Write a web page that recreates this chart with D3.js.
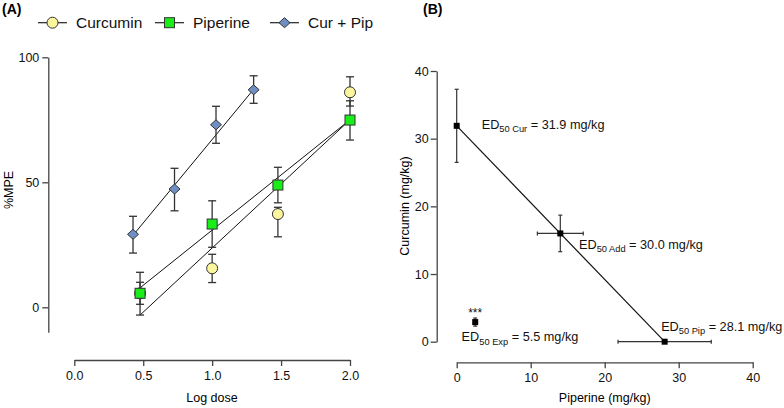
<!DOCTYPE html>
<html>
<head>
<meta charset="utf-8">
<script src="https://cdn.jsdelivr.net/npm/d3@7"></script>
<style>
  body { margin: 0; background: #fff; }
  svg { font-family: "Liberation Sans", Arial, sans-serif; }
</style>
</head>
<body>
<svg id="chart" width="784" height="408"></svg>
<script>
// panel A: dose-response (log dose vs %MPE)
const logDose = [0.477, 1.0, 1.477, 2.0];
const curMean = [5.6, 15.6, 37.3, 86.0];
const curLo = [1.2, 9.9, 28.2, 80.5];
const curHi = [10.0, 21.2, 40.0, 92.2];
const pipMean = [5.6, 33.3, 48.9, 74.9];
const pipLo = [-3.1, 24.0, 41.8, 66.9];
const pipHi = [14.0, 42.6, 56.0, 82.6];
const combDose = [0.426, 0.727, 1.028, 1.301];
const combMean = [29.2, 47.3, 73.0, 87.0];
const combLo = [21.7, 38.6, 65.6, 81.6];
const combHi = [36.4, 55.6, 80.4, 92.6];
// regression lines (start/end)
const curFitX = [0.477, 2.0], curFitY = [-3.1, 75.0];
const pipFitX = [0.477, 2.0], pipFitY = [7.8, 75.0];
const combFitX = [0.426, 1.301], combFitY = [28.8, 87.2];
const xTicksA = [0, 0.5, 1.0, 1.5, 2.0];
const yTicksA = [0, 50, 100];

// panel B: isobologram
const edNames = ["Cur", "Add", "Pip", "Exp"];
const edValues = ["31.9", "30.0", "28.1", "5.5"];
const edPip = [0, 14.0, 28.1, 2.5];
const edCur = [31.9, 16.0, 0, 2.9];
const edPipErr = [0, 3.1, 6.3, 0];
const edCurErr = [5.4, 2.7, 0, 0.6];
const xTicksB = [0, 10, 20, 30, 40];
const yTicksB = [0, 10, 20, 30, 40];

const svg = d3.select("#chart");
const axisColor = "#444";
const errColor = "#333";

// ---------- panel A ----------
const xA = d3.scaleLinear().domain([0, 2]).range([74.3, 350]);
const yA = d3.scaleLinear().domain([-10, 100]).range([332.3, 57.3]);

function styleAxis(g) {
    g.selectAll("path, line").attr("stroke", axisColor).attr("stroke-width", 1.3);
    g.selectAll("text").attr("fill", "#111").attr("font-size", 12.5);
}

svg.append("g")
    .attr("transform", "translate(48.3,0)")
    .call(d3.axisLeft(yA).tickValues(yTicksA).tickSize(6).tickSizeOuter(0).tickPadding(3))
    .call(styleAxis);

svg.append("g")
    .attr("transform", "translate(0,360)")
    .call(d3.axisBottom(xA).tickValues(xTicksA).tickFormat(d3.format(".1f")).tickSize(6).tickSizeOuter(0).tickPadding(5))
    .call(styleAxis);

svg.append("text").attr("x", 212).attr("y", 402).attr("text-anchor", "middle")
    .attr("font-size", 12.5).text("Log dose");
svg.append("text").attr("transform", "translate(12.5,190) rotate(-90)").attr("text-anchor", "middle")
    .attr("font-size", 12.5).text("%MPE");
svg.append("text").attr("x", 2).attr("y", 14).attr("font-size", 14).attr("font-weight", "bold").text("(A)");

const gA = svg.append("g");

function fitLine(xs, ys) {
    gA.append("line")
        .attr("x1", xA(xs[0])).attr("y1", yA(ys[0]))
        .attr("x2", xA(xs[1])).attr("y2", yA(ys[1]))
        .attr("stroke", "#111").attr("stroke-width", 1);
}
fitLine(combFitX, combFitY);
fitLine(pipFitX, pipFitY);
fitLine(curFitX, curFitY);

function errBars(xs, lo, hi) {
    const g = gA.append("g").attr("stroke", errColor).attr("stroke-width", 1.3);
    xs.forEach((x, i) => {
        const px = xA(x);
        g.append("line").attr("x1", px).attr("x2", px).attr("y1", yA(lo[i])).attr("y2", yA(hi[i]));
        [lo[i], hi[i]].forEach(v => {
            g.append("line").attr("x1", px - 4).attr("x2", px + 4).attr("y1", yA(v)).attr("y2", yA(v));
        });
    });
}
errBars(logDose, curLo, curHi);
errBars(logDose, pipLo, pipHi);
errBars(combDose, combLo, combHi);

const markers = {
    circle: g => g.append("circle").attr("r", 5.5).attr("fill", "#fbf59e"),
    square: g => g.append("rect").attr("x", -5).attr("y", -5).attr("width", 10).attr("height", 10).attr("fill", "#19ee19"),
    diamond: g => g.append("path").attr("d", "M0,-5 L5.5,0 L0,5 L-5.5,0 Z").attr("fill", "#6f8fc2")
};

function drawMarkers(xs, ys, kind) {
    xs.forEach((x, i) => {
        const g = gA.append("g").attr("transform", `translate(${xA(x)},${yA(ys[i])})`);
        markers[kind](g).attr("stroke", "#333").attr("stroke-width", 1);
    });
}
drawMarkers(logDose, curMean, "circle");
drawMarkers(logDose, pipMean, "square");
drawMarkers(combDose, combMean, "diamond");

// legend
const legendItems = [
    { kind: "circle", label: "Curcumin", x: 38 },
    { kind: "square", label: "Piperine", x: 155 },
    { kind: "diamond", label: "Cur + Pip", x: 270 }
];
legendItems.forEach(it => {
    const g = svg.append("g").attr("transform", `translate(${it.x},22.7)`);
    g.append("line").attr("x1", 0).attr("x2", 29).attr("stroke", "#222").attr("stroke-width", 1.2);
    const m = g.append("g").attr("transform", "translate(14.5,0)");
    markers[it.kind](m).attr("stroke", "#333").attr("stroke-width", 1);
    g.append("text").attr("x", 38).attr("y", 5.5).attr("font-size", 15.5).attr("fill", "#111").text(it.label);
});

// ---------- panel B ----------
const xB = d3.scaleLinear().domain([0, 40]).range([456.7, 752.7]);
const yB = d3.scaleLinear().domain([0, 40]).range([341.7, 71]);

svg.append("g")
    .attr("transform", "translate(436.7,0)")
    .call(d3.axisLeft(yB).tickValues(yTicksB).tickSize(6).tickSizeOuter(0).tickPadding(2))
    .call(styleAxis);

svg.append("g")
    .attr("transform", "translate(0,362.3)")
    .call(d3.axisBottom(xB).tickValues(xTicksB).tickSize(6).tickSizeOuter(0).tickPadding(5))
    .call(styleAxis);

svg.append("text").attr("x", 604.7).attr("y", 402).attr("text-anchor", "middle")
    .attr("font-size", 12.5).text("Piperine (mg/kg)");
svg.append("text").attr("transform", "translate(409,206) rotate(-90)").attr("text-anchor", "middle")
    .attr("font-size", 12.5).text("Curcumin (mg/kg)");
svg.append("text").attr("x", 423).attr("y", 14).attr("font-size", 14).attr("font-weight", "bold").text("(B)");

const gB = svg.append("g");

// line of additivity (Cur ED50 -> Pip ED50)
gB.append("line")
    .attr("x1", xB(edPip[0])).attr("y1", yB(edCur[0]))
    .attr("x2", xB(edPip[2])).attr("y2", yB(edCur[2]))
    .attr("stroke", "#111").attr("stroke-width", 1.2);

const eb = gB.append("g").attr("stroke", errColor).attr("stroke-width", 1.2);
edPip.forEach((x, i) => {
    const px = xB(x), py = yB(edCur[i]);
    if (edCurErr[i] > 0) {
        const y1 = yB(edCur[i] - edCurErr[i]), y2 = yB(edCur[i] + edCurErr[i]);
        eb.append("line").attr("x1", px).attr("x2", px).attr("y1", y1).attr("y2", y2);
        [y1, y2].forEach(y => eb.append("line").attr("x1", px - 2).attr("x2", px + 2).attr("y1", y).attr("y2", y));
    }
    if (edPipErr[i] > 0) {
        const x1 = xB(x - edPipErr[i]), x2 = xB(x + edPipErr[i]);
        eb.append("line").attr("x1", x1).attr("x2", x2).attr("y1", py).attr("y2", py);
        [x1, x2].forEach(xx => eb.append("line").attr("x1", xx).attr("x2", xx).attr("y1", py - 2).attr("y2", py + 2));
    }
});

gB.selectAll("rect.pt")
    .data(edPip)
    .enter()
    .append("rect")
    .attr("class", "pt")
    .attr("x", d => xB(d) - 3)
    .attr("y", (d, i) => yB(edCur[i]) - 3)
    .attr("width", 6).attr("height", 6)
    .attr("fill", "#000");

// ED50 labels, offsets in pixels from each point
const labelOffsets = [[25, 3], [18.7, 15.5], [-3.5, -11], [-13.6, 19]];
edNames.forEach((name, i) => {
    const t = gB.append("text")
        .attr("x", xB(edPip[i]) + labelOffsets[i][0])
        .attr("y", yB(edCur[i]) + labelOffsets[i][1])
        .attr("font-size", 12.7).attr("fill", "#111");
    t.append("tspan").text("ED");
    t.append("tspan").attr("font-size", 9.3).attr("dy", 3.5).text("50 " + name);
    t.append("tspan").attr("dy", -3.5).text(" = " + edValues[i] + " mg/kg");
});

gB.append("text")
    .attr("x", xB(edPip[3])).attr("y", yB(edCur[3]) - 5)
    .attr("text-anchor", "middle").attr("font-size", 12).attr("fill", "#111").text("***");
</script>
</body>
</html>
